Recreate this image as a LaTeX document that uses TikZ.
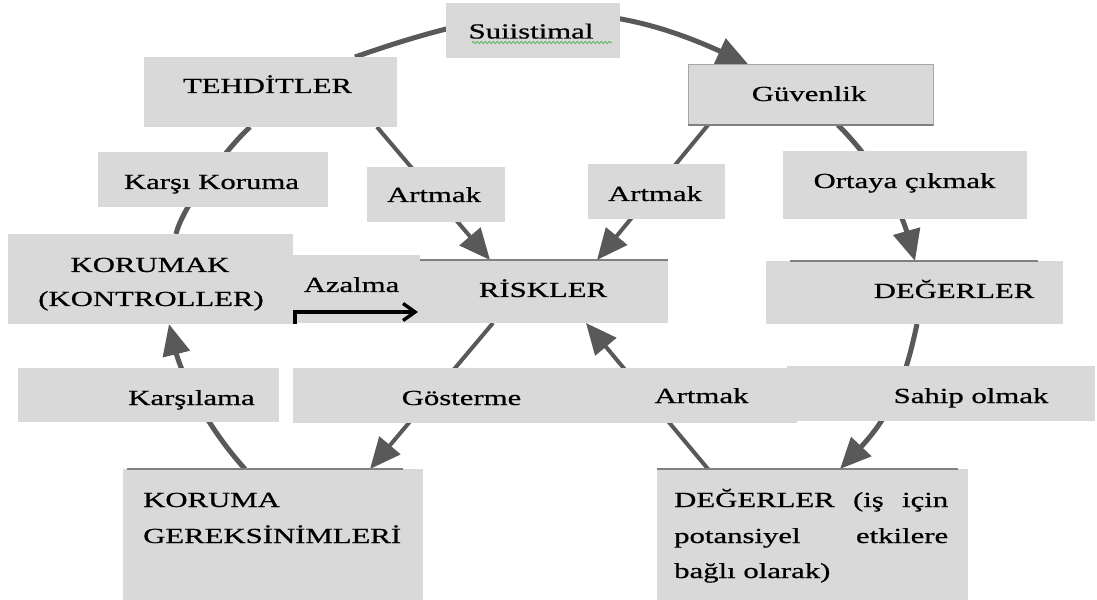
\documentclass[tikz,border=0pt]{standalone}
\usepackage{fontspec}
\setmainfont{Liberation Serif}
\newfontfamily\lblfamily[FakeBold=0.6]{Liberation Serif}
\usetikzlibrary{arrows.meta,fit,decorations.pathmorphing}

\definecolor{boxgray}{HTML}{D9D9D9}
\definecolor{linkgray}{HTML}{595959}
\definecolor{edgegray}{HTML}{808080}
\definecolor{framegray}{HTML}{A6A6A6}
\definecolor{spellgreen}{HTML}{5CB85C}

\pgfdeclarelayer{bg}
\pgfsetlayers{bg,main}

% labels are set in a horizontally widened serif
\newcommand\sx[1]{\scalebox{1.43}[1]{#1}}
\newcommand\lblfont{\lblfamily\fontsize{21.5bp}{26bp}\selectfont}

\begin{document}
\begin{tikzpicture}[x=1bp,y=-1bp,
  box/.style={fill=boxgray, draw=none, inner sep=0pt, outer sep=0pt},
  lbl/.style={inner sep=0pt, font=\lblfont, anchor=base},
  lblw/.style={lbl, anchor=base west},
  ring/.style={draw=linkgray, line width=5bp},
  spoke/.style={draw=linkgray, line width=4bp},
  headed/.style={-{Triangle[length=31bp,width=27bp]}},
  topline/.style={draw=edgegray, line width=1.2bp},
]
\begin{pgfonlayer}{bg}
  \fill[white] (0,0) rectangle (1097,600);
\end{pgfonlayer}
\useasboundingbox (0,0) rectangle (1097,600);

% ---------- boxes ----------
\node[box, fit={(446,3) (620,58)}]     (sui)  {};
\node[box, fit={(144,57) (397,127)}]   (teh)  {};
\node[box, draw=framegray, line width=0.8bp, fit={(688,64) (933,125)}] (guv) {};
\node[box, fit={(783,151) (1027,219)}] (ort)  {};
\node[box, fit={(588,164) (725,219)}]  (artR) {};
\node[box, fit={(98,152) (328,207)}]   (kk)   {};
\node[box, fit={(367,167) (505,222)}]  (artL) {};
\node[box, fit={(8,234) (293,324)}]    (kor)  {};
\node[box, fit={(270,255) (420,323)}]  (aza)  {};
\node[box, fit={(420,260) (668,323)}]  (ris)  {};
\node[box, fit={(766,261) (1063,324)}] (deg)  {};
\node[box, fit={(18,368) (279,422)}]   (kar)  {};
\node[box, fit={(293,368) (640,423)}]  (gos)  {};
\node[box, fit={(620,368) (797,423)}]  (artB) {};
\node[box, fit={(787,366) (1095,421)}] (sah)  {};
\node[box, fit={(123,469) (423,600)}]  (kg)   {};
\node[box, fit={(657,469) (968,600)}]  (dg2)  {};

% frame edges
\draw[edgegray, line width=1.5bp] (guv.south west) -- (guv.south east);
\draw[topline] (ris.north west) -- (ris.north east);
\draw[topline] ([xshift=24bp]deg.north west) -- ([xshift=-25bp]deg.north east);
\draw[topline] ([xshift=4bp]kg.north west) -- ([xshift=-20bp]kg.north east);
\draw[topline] (dg2.north west) -- ([xshift=-10bp]dg2.north east);

% ---------- texts ----------
\node[lbl] (t-sui)  at (531,38.5) {\sx{Suiistimal}};
\node[lbl] (t-teh)  at (267.5,93) {\sx{TEHDİTLER}};
\node[lbl] (t-guv)  at (809,101)  {\sx{Güvenlik}};
\node[lbl] (t-ort)  at (904.5,188) {\sx{Ortaya çıkmak}};
\node[lbl] (t-artR) at (655,201)  {\sx{Artmak}};
\node[lbl] (t-kk)   at (211.5,189) {\sx{Karşı Koruma}};
\node[lbl] (t-artL) at (434,202)  {\sx{Artmak}};
\node[lbl] (t-kor1) at (150,272)  {\sx{KORUMAK}};
\node[lbl] (t-kor2) at (151,306)  {\sx{(KONTROLLER)}};
\node[lbl] (t-aza)  at (351.5,292) {\sx{Azalma}};
\node[lbl] (t-ris)  at (543,297)  {\sx{RİSKLER}};
\node[lbl] (t-deg)  at (954,298)  {\sx{DEĞERLER}};
\node[lbl] (t-kar)  at (191.5,405) {\sx{Karşılama}};
\node[lbl] (t-gos)  at (461.5,405) {\sx{Gösterme}};
\node[lbl] (t-artB) at (701.5,403) {\sx{Artmak}};
\node[lbl] (t-sah)  at (971,403)  {\sx{Sahip olmak}};
\node[lblw] (t-kg1) at (143,507)  {\sx{KORUMA}};
\node[lblw] (t-kg2) at (143,543)  {\sx{GEREKSİNİMLERİ}};
\node[lblw] (t-dg1) at (674,507)  {\sx{\hbox to 191.6bp{DEĞERLER\hfill(iş\hfill için}}};
\node[lblw] (t-dg2) at (674,543)  {\sx{\hbox to 191.6bp{potansiyel\hfill etkilere}}};
\node[lblw] (t-dg3) at (674,578)  {\sx{bağlı olarak)}};

% spell-check underline
\draw[spellgreen, line width=0.9bp, decorate,
      decoration={snake, amplitude=1.1bp, segment length=4bp}]
  (472,42.5) -- (612,42.5);

% ---------- connectors (behind the boxes) ----------
\begin{pgfonlayer}{bg}
  % outer cycle
  \draw[ring, headed] ([xshift=211bp]teh.north west)
    .. controls (505,4.5) and (598,-4.5) .. ([xshift=60bp]guv.north west);
  \draw[ring, headed] ([xshift=150bp]guv.south west)
    .. controls (880,167) and (901.5,213) .. ([xshift=149bp]deg.north west);
  \draw[ring, headed] ([xshift=151bp]deg.south west)
    .. controls (907.5,368) and (896,410) .. ([xshift=183bp]dg2.north west);
  \draw[ring, headed] ([xshift=122bp]kg.north west)
    .. controls (198,417) and (178.6,363) .. ([xshift=161bp]kor.south west);
  \draw[ring] ([xshift=168bp]kor.north west)
    .. controls (183,205) and (228,147) .. ([xshift=106bp]teh.south west);
  % spokes into and out of the risks
  \draw[spoke, headed] ([xshift=233bp]teh.south west) -- ([xshift=70bp]ris.north west);
  \draw[spoke, headed] ([xshift=20bp]guv.south west) -- ([xshift=177bp]ris.north west);
  \draw[spoke, headed] ([xshift=73bp]ris.south west) -- ([xshift=247bp]kg.north west);
  \draw[spoke, headed] ([xshift=51bp]dg2.north west) -- ([xshift=166bp]ris.south west);
\end{pgfonlayer}

% controls reduce the risks
\draw[black, line width=3.4bp, -{Straight Barb[length=12bp,width=17bp]}]
  ([xshift=2bp]kor.south east) |- ([xshift=-2bp,yshift=-20.5bp]ris.west);

\end{tikzpicture}
\end{document}
